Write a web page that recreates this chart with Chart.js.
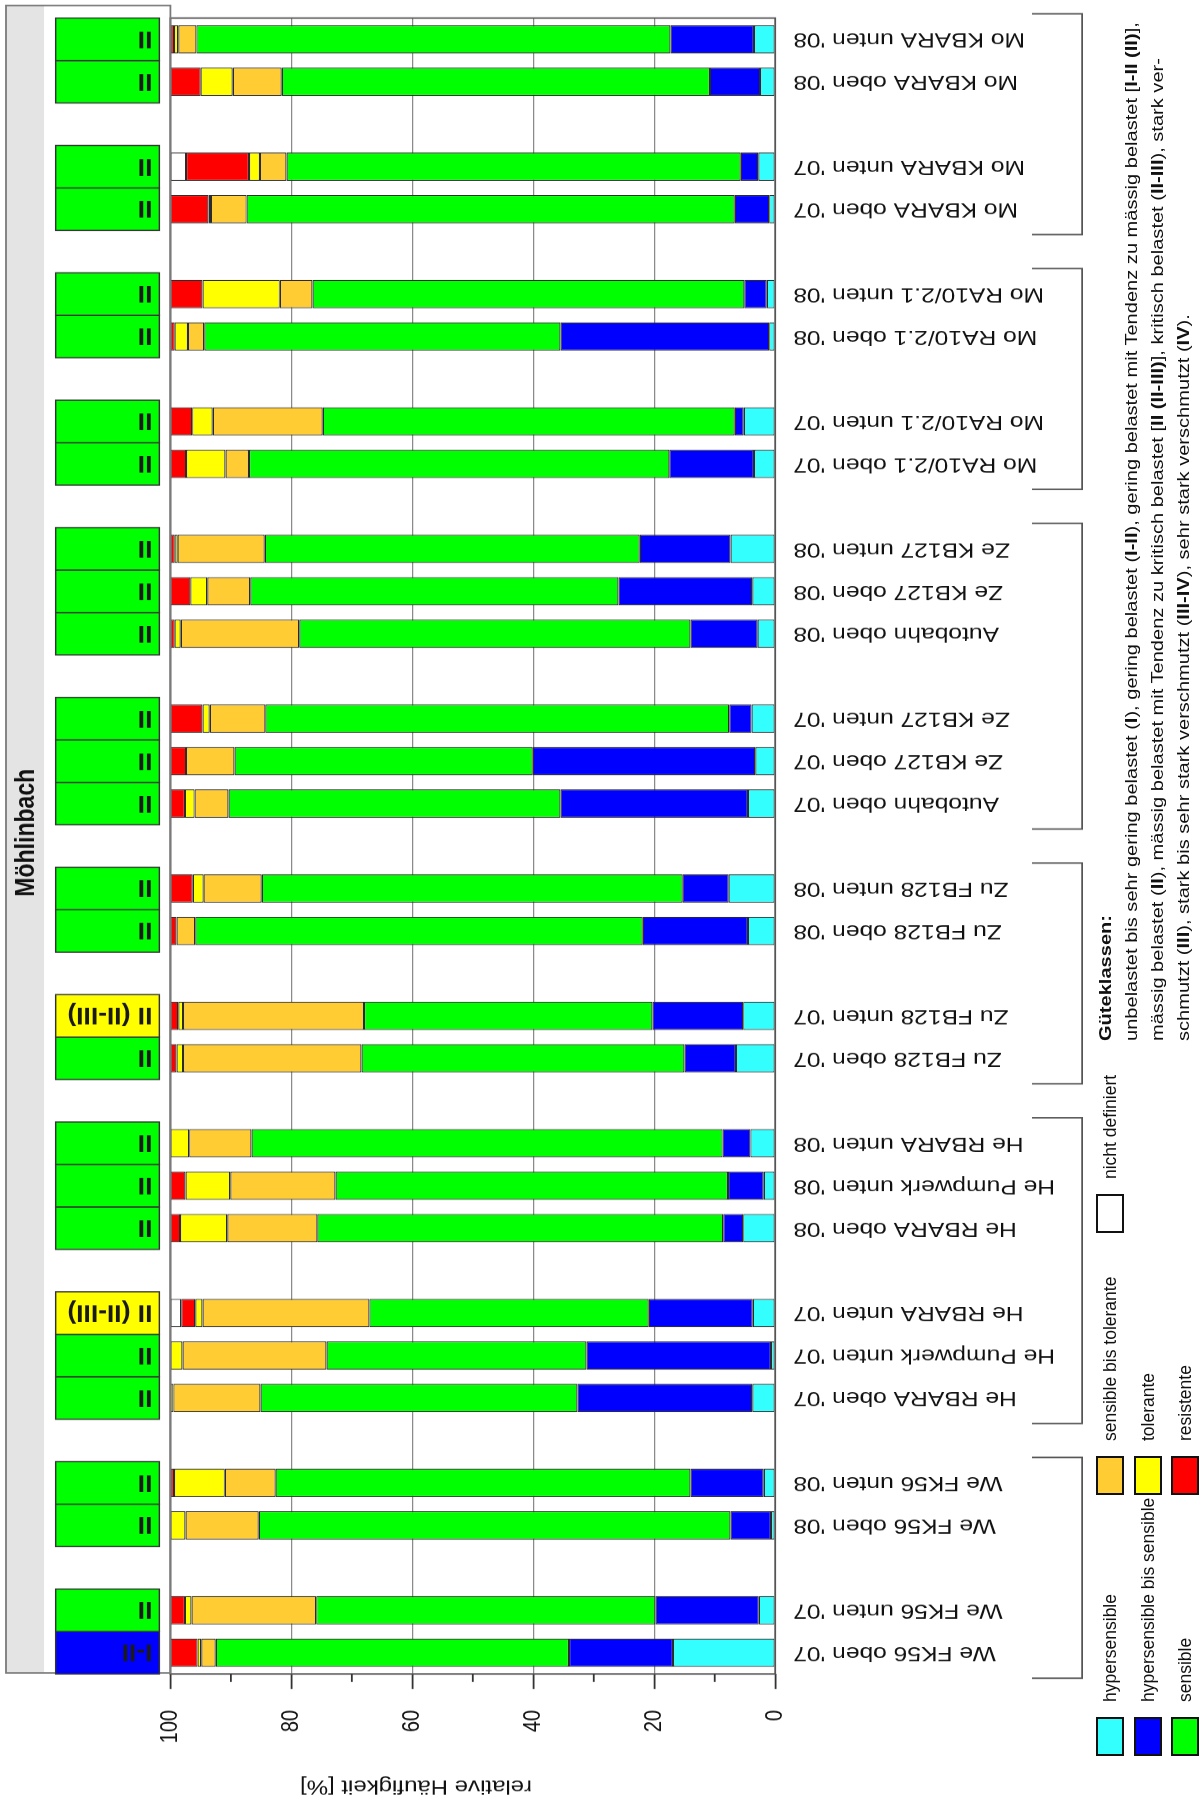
<!DOCTYPE html>
<html lang="de">
<head>
<meta charset="utf-8">
<title>Möhlinbach – relative Häufigkeit der Indikatorgruppen</title>
<script src="https://cdn.jsdelivr.net/npm/chart.js@4.4.1/dist/chart.umd.min.js"></script>
<style>
  html, body { margin: 0; padding: 0; background: #fff; }
  body { width: 1202px; height: 1803px; overflow: hidden; position: relative;
         font-family: 'Liberation Sans', Arial, sans-serif; color: #111; }
  /* the sheet is laid out in landscape and turned a quarter turn counter-clockwise */
  #sheet { position: absolute; left: 0; top: 0; width: 1803px; height: 1202px;
           transform-origin: 0 0; transform: translate(0, 1803px) rotate(-90deg); }
  #plotWrap { position: absolute; left: 0; top: 0; width: 1803px; height: 1002px;
              transform-origin: 0 0; transform: scaleY(1.1996); }
  .sw { position: absolute; box-sizing: border-box; width: 39px; height: 28px; border: 2px solid #111; }
  .lg { position: absolute; height: 28px; line-height: 28px; font-size: 17.5px; white-space: nowrap; }
  #notes { position: absolute; left: 762px; top: 1093px; font-size: 17px; line-height: 26px; white-space: nowrap;
           transform-origin: 0 0; transform: scaleX(1.18); }
</style>
</head>
<body>
<div id="sheet">
  <div id="plotWrap"><canvas id="chart" width="1803" height="1002"></canvas></div>
  <div id="legend"></div>
  <div id="notes">
    <div><b>Güteklassen:</b></div>
    <div>unbelastet bis sehr gering belastet (<b>I</b>), gering belastet (<b>I-II</b>), gering belastet mit Tendenz zu mässig belastet [<b>I-II (II)</b>],</div>
    <div>mässig belastet (<b>II</b>), mässig belastet mit Tendenz zu kritisch belastet [<b>II (II-III)</b>], kritisch belastet (<b>II-III</b>), stark ver-</div>
    <div>schmutzt (<b>III</b>), stark bis sehr stark verschmutzt (<b>III-IV</b>), sehr stark verschmutzt (<b>IV</b>).</div>
  </div>
</div>
<script>
// ---- data --------------------------------------------------------------
const categories = [
  "We FK56 oben '07", "We FK56 unten '07", "",
  "We FK56 oben '08", "We FK56 unten '08", "",
  "He RBARA oben '07", "He Pumpwerk unten '07", "He RBARA unten '07", "",
  "He RBARA oben '08", "He Pumpwerk unten '08", "He RBARA unten '08", "",
  "Zu FB128 oben '07", "Zu FB128 unten '07", "",
  "Zu FB128 oben '08", "Zu FB128 unten '08", "",
  "Autobahn oben '07", "Ze KB127 oben '07", "Ze KB127 unten '07", "",
  "Autobahn oben '08", "Ze KB127 oben '08", "Ze KB127 unten '08", "",
  "Mo RA10/2.1 oben '07", "Mo RA10/2.1 unten '07", "",
  "Mo RA10/2.1 oben '08", "Mo RA10/2.1 unten '08", "",
  "Mo KBARA oben '07", "Mo KBARA unten '07", "",
  "Mo KBARA oben '08", "Mo KBARA unten '08"
];

// relative Häufigkeit [%] je Indikatorgruppe (null = Lücke zwischen Gruppen)
const hypersensible = [16.9, 2.7, null, 0.7, 1.9, null, 3.8, 0.7, 3.7, null, 5.3, 1.9, 4.1, null, 6.5, 5.3, null, 4.5, 7.7, null, 4.5, 3.3, 3.9, null, 2.9, 3.8, 7.4, null, 3.5, 5.2, null, 1.0, 1.4, null, 1.0, 2.8, null, 2.5, 3.5];
const hypersensibleBisSensible = [17.2, 17.1, null, 6.7, 12.1, null, 28.9, 30.5, 17.2, null, 3.3, 5.9, 4.6, null, 8.5, 15.0, null, 17.4, 7.6, null, 31.0, 36.8, 3.7, null, 11.1, 22.1, 15.0, null, 14.0, 1.5, null, 34.5, 3.7, null, 5.7, 2.9, null, 8.3, 13.8];
const sensible = [58.4, 56.1, null, 78.0, 68.6, null, 52.4, 43.0, 46.2, null, 67.1, 64.9, 77.9, null, 53.4, 47.7, null, 74.0, 69.6, null, 54.9, 49.3, 76.7, null, 64.7, 60.9, 62.0, null, 69.5, 68.1, null, 58.9, 71.4, null, 80.7, 75.1, null, 70.8, 78.4];
const sensibleBisTolerante = [2.4, 20.6, null, 12.1, 8.4, null, 14.4, 23.8, 27.6, null, 14.9, 17.4, 10.3, null, 29.5, 29.9, null, 3.1, 9.6, null, 5.6, 8.0, 9.2, null, 19.6, 7.1, 14.4, null, 3.9, 18.2, null, 2.7, 5.4, null, 5.9, 4.4, null, 8.1, 3.0];
const tolerante = [0.6, 1.1, null, 2.5, 8.4, null, 0.5, 2.0, 1.2, null, 7.8, 7.4, 3.1, null, 1.1, 0.8, null, 0, 1.8, null, 1.6, 0, 1.2, null, 1.0, 2.8, 0.5, null, 6.5, 3.4, null, 2.2, 12.8, null, 0.4, 1.8, null, 5.3, 0.7];
const resistente = [4.5, 2.4, null, 0, 0.6, null, 0, 0, 2.3, null, 1.6, 2.5, 0, null, 1.0, 1.3, null, 1.0, 3.7, null, 2.4, 2.6, 5.3, null, 0.7, 3.3, 0.7, null, 2.6, 3.6, null, 0.7, 5.3, null, 6.3, 10.4, null, 5.0, 0.6];
const nichtDefiniert = [0, 0, null, 0, 0, null, 0, 0, 1.8, null, 0, 0, 0, null, 0, 0, null, 0, 0, null, 0, 0, 0, null, 0, 0, 0, null, 0, 0, null, 0, 0, null, 0, 2.6, null, 0, 0];

// Güteklasse je Probestelle
const gueteklasse = ['I-II', 'II', null, 'II', 'II', null, 'II', 'II', 'II (II-III)', null, 'II', 'II', 'II', null, 'II', 'II (II-III)', null, 'II', 'II', null, 'II', 'II', 'II', null, 'II', 'II', 'II', null, 'II', 'II', null, 'II', 'II', null, 'II', 'II', null, 'II', 'II'];

// Bachabschnitte (Index der ersten und letzten Probestelle)
const abschnitte = [[0, 4], [6, 12], [14, 18], [20, 26], [28, 32], [34, 38]];

const seriesNames = ['hypersensible', 'hypersensible bis sensible', 'sensible', 'sensible bis tolerante', 'tolerante', 'resistente', 'nicht definiert'];
const seriesValues = [hypersensible, hypersensibleBisSensible, sensible, sensibleBisTolerante, tolerante, resistente, nichtDefiniert];
const seriesColours = ['#33FFFF', '#0000FF', '#00FF00', '#FFCC33', '#FFFF00', '#FF0000', '#FFFFFF'];
const classColours = { 'I-II': '#0000FF', 'II': '#00FF00', 'II (II-III)': '#FFFF00' };

const bachName = 'Möhlinbach';
const axisTitle = 'relative Häufigkeit [%]';

// ---- layout (canvas units, before the vertical stretch) -----------------
const FONT = "'Liberation Sans', Arial, sans-serif";
const HEADER = { left: 130, right: 1797, top: 5, bottom: 36.7 };
const STRIP = { top: 46.4, bottom: 132.8, textStart: 127 };
const BRACKET = { top: 860, bottom: 901.7, overhang: 0.6 };

function rotatedText(ctx, text, x, y, font, align, squeeze) {
  ctx.save();
  ctx.translate(x, y);
  ctx.rotate(-Math.PI / 2);
  ctx.scale(squeeze, 1);
  ctx.font = font;
  ctx.textAlign = align;
  ctx.textBaseline = 'middle';
  ctx.fillText(text, 0, 0);
  ctx.restore();
}

const decor = {
  id: 'decor',
  beforeDraw(chart) {
    const { ctx } = chart;
    ctx.save();
    ctx.fillStyle = '#e4e4e4';
    ctx.fillRect(HEADER.left, HEADER.top, HEADER.right - HEADER.left, HEADER.bottom - HEADER.top);
    ctx.restore();
  },
  afterDatasetsDraw(chart) {
    const { ctx, chartArea: a, scales: { x, y } } = chart;
    const half = (x.getPixelForValue(1) - x.getPixelForValue(0)) / 2;
    ctx.save();

    // plot frame and outer frame
    ctx.strokeStyle = '#555';
    ctx.lineWidth = 1.5;
    ctx.strokeRect(a.left, a.top, a.right - a.left, a.bottom - a.top);
    ctx.strokeStyle = '#7a7a7a';
    ctx.strokeRect(HEADER.left, HEADER.top, HEADER.right - HEADER.left, a.top - HEADER.top);

    // minor ticks of the value axis
    ctx.strokeStyle = '#333';
    ctx.lineWidth = 1.5;
    y.ticks.filter(t => t.value % 20 !== 0).forEach(t => {
      const py = y.getPixelForValue(t.value);
      ctx.beginPath(); ctx.moveTo(a.left - 8, py); ctx.lineTo(a.left, py); ctx.stroke();
    });

    // Güteklassen strip
    gueteklasse.forEach((g, i) => {
      if (!g) return;
      const cx = x.getPixelForValue(i);
      ctx.fillStyle = classColours[g];
      ctx.fillRect(cx - half, STRIP.top, 2 * half, STRIP.bottom - STRIP.top);
      ctx.strokeStyle = '#333';
      ctx.lineWidth = 1.2;
      ctx.strokeRect(cx - half, STRIP.top, 2 * half, STRIP.bottom - STRIP.top);
      ctx.fillStyle = '#1a1a1a';
      rotatedText(ctx, g, cx + 1, STRIP.textStart, 'bold 25px ' + FONT, 'left', 0.88);
    });

    // brackets grouping the sampling sites of one stretch
    ctx.strokeStyle = '#555';
    ctx.lineWidth = 1.5;
    abschnitte.forEach(([first, last]) => {
      const x0 = x.getPixelForValue(first) - BRACKET.overhang * 2 * half;
      const x1 = x.getPixelForValue(last) + BRACKET.overhang * 2 * half;
      ctx.beginPath();
      ctx.moveTo(x0, BRACKET.top); ctx.lineTo(x0, BRACKET.bottom);
      ctx.lineTo(x1, BRACKET.bottom); ctx.lineTo(x1, BRACKET.top);
      ctx.stroke();
    });

    // stream name in the header band
    ctx.fillStyle = '#111';
    ctx.font = 'bold 23px ' + FONT;
    ctx.textAlign = 'center';
    ctx.textBaseline = 'middle';
    ctx.fillText(bachName, 970, (HEADER.top + HEADER.bottom) / 2 + 1);

    // value axis title
    ctx.fillStyle = '#111';
    rotatedText(ctx, axisTitle, 17, 346.7, '20px ' + FONT, 'center', 1);
    ctx.restore();
  }
};

const chart = new Chart(document.getElementById('chart'), {
  type: 'bar',
  data: {
    labels: categories,
    datasets: seriesNames.map((name, k) => ({
      label: name,
      data: seriesValues[k],
      backgroundColor: seriesColours[k],
      borderColor: '#2b2b2b',
      borderWidth: 1,
      borderSkipped: false,
      categoryPercentage: 1.0,
      barPercentage: 0.667
    }))
  },
  options: {
    responsive: false,
    devicePixelRatio: 1.2,
    animation: false,
    layout: { padding: { left: 0, top: 142, right: 16, bottom: 0 } },
    plugins: { legend: { display: false }, tooltip: { enabled: false }, title: { display: false } },
    scales: {
      x: {
        stacked: true,
        offset: true,
        grid: { display: false, drawTicks: false },
        border: { display: false },
        ticks: {
          autoSkip: false, minRotation: 90, maxRotation: 90, padding: 15,
          color: '#111', font: { family: FONT, size: 20.5 }
        },
        afterFit(scale) { scale.height = 356; }
      },
      y: {
        stacked: true,
        min: 0, max: 100,
        border: { display: false },
        grid: {
          color: c => (c.tick && c.tick.value % 20 === 0 && c.tick.value > 0 && c.tick.value < 100) ? '#8a8a8a' : 'rgba(0,0,0,0)',
          lineWidth: 1,
          tickLength: 15,
          tickWidth: 1.5,
          tickColor: c => (c.tick && c.tick.value % 20 === 0) ? '#333' : 'rgba(0,0,0,0)'
        },
        ticks: {
          stepSize: 10,
          padding: 21,
          color: '#111',
          font: { family: FONT, size: 20 },
          callback: v => (v % 20 === 0 ? String(v) : '')
        },
        afterFit(scale) { scale.width = 129; }
      }
    }
  },
  plugins: [decor]
});

// legend (landscape sheet coordinates)
const legendPlaces = [
  [47, 1096], [47, 1134], [47, 1171],
  [308, 1096], [308, 1134], [308, 1171],
  [570, 1096]
];
const legendBox = document.getElementById('legend');
seriesNames.forEach((name, k) => {
  const [lx, ly] = legendPlaces[k];
  const sw = document.createElement('div');
  sw.className = 'sw';
  sw.style.left = lx + 'px';
  sw.style.top = ly + 'px';
  sw.style.background = seriesColours[k];
  legendBox.appendChild(sw);
  const tx = document.createElement('div');
  tx.className = 'lg';
  tx.style.left = (lx + 54) + 'px';
  tx.style.top = ly + 'px';
  tx.textContent = name;
  legendBox.appendChild(tx);
});
</script>
</body>
</html>
